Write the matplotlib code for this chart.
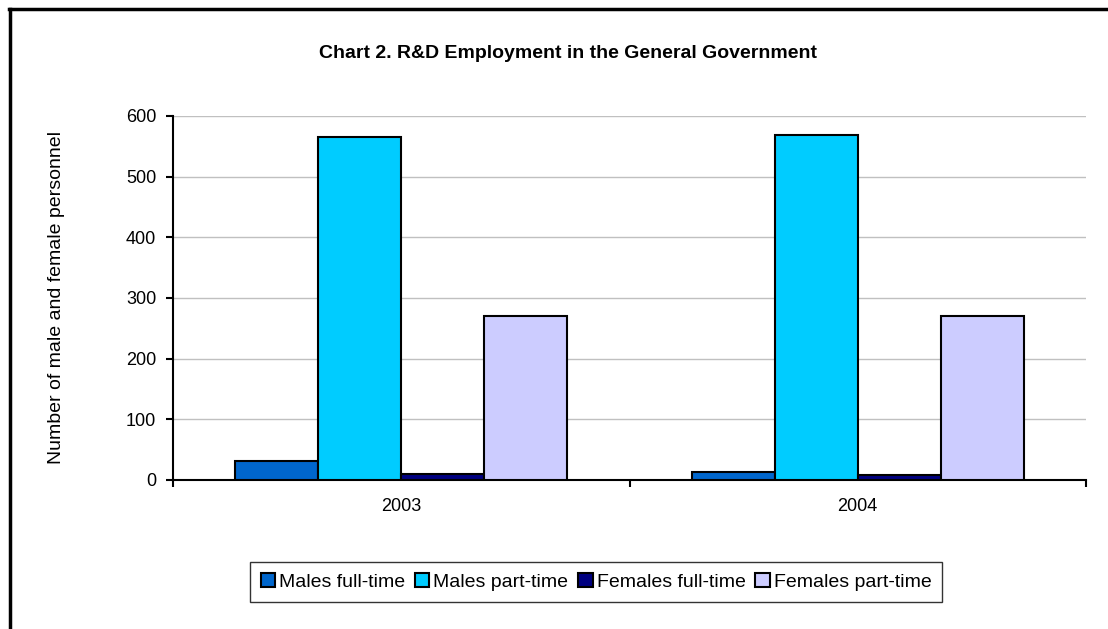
import numpy as np
import matplotlib
matplotlib.use("Agg")
import matplotlib.pyplot as plt
from matplotlib.lines import Line2D

plt.rcParams["font.family"] = ["Liberation Sans", "DejaVu Sans"]

YEARS = ["2003", "2004"]
SERIES = ["Males full-time", "Males part-time", "Females full-time", "Females part-time"]
VALUES = {
    "Males full-time": [31, 13],
    "Males part-time": [566, 568],
    "Females full-time": [10, 8],
    "Females part-time": [270, 271],
}
COLORS = ["#0066CC", "#00CCFF", "#000080", "#CCCCFF"]


def main():
    fig = plt.figure(figsize=(11.08, 6.29), dpi=100)
    ax = fig.add_axes([173/1108, 1 - 480/629, (1086 - 173)/1108, (480 - 116)/629])

    x = np.arange(len(YEARS)); w = 1 / 5.5
    for i, (s, c) in enumerate(zip(SERIES, COLORS)):
        ax.bar(x + (i - 1.5) * w, VALUES[s], w, color=c, edgecolor="black",
               linewidth=1.5, label=s, zorder=3)

    ax.set_xlim(-0.5, 1.5); ax.set_ylim(0, 600)
    ax.set_yticks(range(0, 601, 100))
    ax.yaxis.grid(True, color="#c0c0c0", lw=1, zorder=0)
    ax.set_xticks(x); ax.set_xticklabels(YEARS)
    ax.set_xticks([-0.5, 0.5, 1.5], minor=True)
    ax.tick_params(axis="x", which="major", length=0, pad=13, labelsize=13)
    ax.tick_params(axis="x", which="minor", length=5, width=1.5, direction="out")
    ax.tick_params(axis="y", length=5, width=1.5, pad=7, labelsize=13)
    for sp in ("top", "right"):
        ax.spines[sp].set_visible(False)
    for sp in ("left", "bottom"):
        ax.spines[sp].set_linewidth(1.5)

    fig.text(568/1108, 1 - 54/629, "Chart 2. R&D Employment in the General Government",
             ha="center", va="center", fontsize=14, fontweight="bold")
    fig.text(57/1108, 1 - 298/629, "Number of male and female personnel",
             rotation=90, ha="center", va="center", fontsize=14)

    leg = fig.legend(loc="center", bbox_to_anchor=(596/1108, 1 - 582/629), ncol=4,
                     fontsize=14, frameon=True, fancybox=False, handlelength=0.75,
                     handleheight=0.75, handletextpad=0.2, columnspacing=0.5,
                     borderpad=0.55)
    leg.get_frame().set_edgecolor("black"); leg.get_frame().set_linewidth(1)

    # chart border (only top and left visible in the original crop)
    fig.add_artist(Line2D([9/1108, 1], [1 - 9/629, 1 - 9/629], color="black", lw=2.5))
    fig.add_artist(Line2D([10/1108, 10/1108], [0, 1 - 9/629], color="black", lw=2.5))

    fig.savefig("out.png", dpi=100)


if __name__ == "__main__":
    main()
